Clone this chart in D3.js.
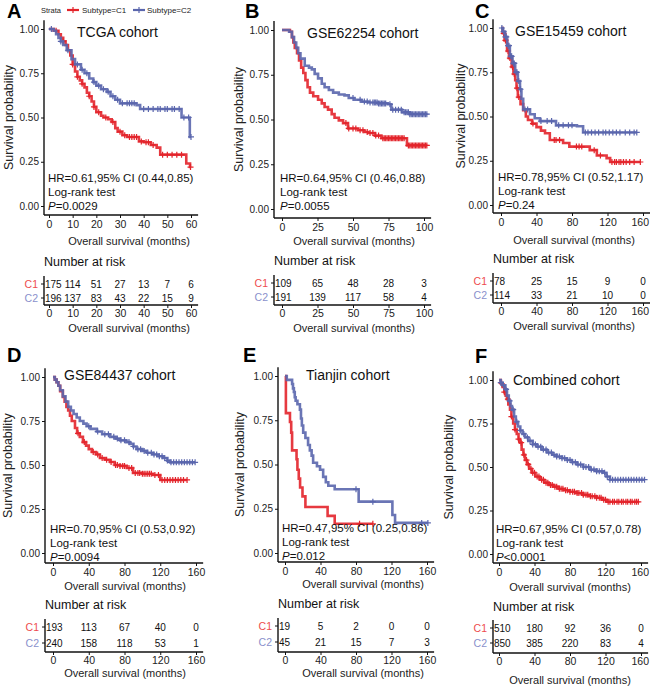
<!DOCTYPE html>
<html><head><meta charset="utf-8">
<script src="https://cdn.jsdelivr.net/npm/d3@7"></script>
<style>body{margin:0;background:#fff}svg{display:block}text{font-family:"Liberation Sans",Arial,sans-serif}</style>
</head><body><svg id="c" width="650" height="686"></svg>
<script>
// ---------- DATA ----------
const cohorts = ["TCGA cohort","GSE62254 cohort","GSE15459 cohort","GSE84437 cohort","Tianjin cohort","Combined cohort"];
const panelLetters = ["A","B","C","D","E","F"];
const hrText = ["HR=0.61,95% CI (0.44,0.85)","HR=0.64,95% CI (0.46,0.88)","HR=0.78,95% CI (0.52,1.17)","HR=0.70,95% CI (0.53,0.92)","HR=0.47,95% CI (0.25,0.86)","HR=0.67,95% CI (0.57,0.78)"];
const pText = ["=0.0029","=0.0055","=0.24","=0.0094","=0.012","<0.0001"];
const yTicks = [0,0.25,0.5,0.75,1];
const xTicksTCGA = [0,10,20,30,40,50,60];
const xTicks62254 = [0,25,50,75,100];
const xTicks160 = [0,40,80,120,160];

// KM steps: [time, survival after that time]
const tcgaC1 = [[0,1],[2,0.99],[4,0.97],[5,0.95],[6,0.93],[7,0.91],[8,0.88],[9,0.85],[10,0.80],[11,0.76],[12,0.73],[13,0.71],[14,0.69],[15,0.67],[16,0.64],[17,0.62],[18,0.59],[19,0.56],[20,0.53],[22,0.51],[23,0.50],[25,0.49],[26.5,0.475],[28,0.44],[29,0.42],[31,0.40],[33,0.39],[38,0.365],[40,0.36],[43,0.345],[45.5,0.33],[47,0.29],[58,0.24],[59.6,0.22],[60,0.22]];
const tcgaC2 = [[0,1],[2,0.99],[3,0.97],[4,0.95],[5,0.93],[6,0.91],[7.5,0.88],[9.5,0.83],[11,0.80],[13.5,0.77],[15,0.75],[17,0.72],[18.7,0.70],[20,0.68],[22,0.66],[24.5,0.645],[26,0.62],[28,0.60],[30,0.58],[37,0.57],[38.5,0.548],[56,0.50],[59.5,0.39],[60,0.39]];
const tcgaC1Cens = [3,6,10,12,14,17,19,21,24,27,30,32,34,35,36,37,39,41,42,44,48,50,52,54,56,59.8];
const tcgaC2Cens = [1,5,8,12,14,16,19,21,23,25,27,29,31,33,34,35,36,40,42,44,46,47,49,50,52,53,55,57,59,60];

const g62254C1 = [[0,1],[5.6,0.99],[7,0.96],[8,0.93],[9,0.90],[10.6,0.87],[12,0.83],[13.5,0.79],[15,0.76],[16.5,0.72],[18,0.68],[19.7,0.65],[22,0.63],[25.4,0.61],[28,0.59],[30,0.57],[32.4,0.555],[35,0.53],[37,0.51],[40,0.495],[43,0.48],[46.5,0.45],[53.5,0.44],[58,0.43],[60.7,0.425],[65.5,0.41],[70,0.395],[88,0.355],[102,0.355]];
const g62254C2 = [[0,1],[5,0.99],[7,0.96],[8.5,0.93],[10,0.90],[11.4,0.87],[13,0.84],[16,0.80],[19,0.79],[21,0.78],[23,0.755],[25.4,0.73],[28,0.70],[30,0.68],[33,0.665],[36,0.65],[40,0.64],[44,0.635],[47,0.62],[51,0.61],[56,0.60],[60.7,0.595],[68,0.59],[74.6,0.585],[77,0.555],[84.5,0.54],[90,0.53],[102,0.53]];
const g62254C1Cens = [45,47,50,52,55,57,60,62,64,66,68,71,72,73,74,75,76,77,78,79,80,81,82,83,84,85,86,89,90,91,92,93,94,95,96,97,98,99,100,101,102];
const g62254C2Cens = [50,55,58,60,62,64,65,66,67,68,69,70,71,72,73,76,78,80,82,84,86,87,88,89,90,91,92,93,94,95,96,97,98,99,100,101,102];

const g15459C1 = [[0,1],[2,0.97],[4,0.93],[6.8,0.87],[9,0.83],[12,0.78],[14,0.74],[16,0.705],[17.5,0.66],[19,0.61],[22,0.57],[25,0.535],[28,0.50],[30.4,0.48],[35,0.46],[40,0.44],[45,0.42],[49.6,0.405],[55,0.367],[70,0.35],[77,0.33],[100,0.31],[108,0.28],[119,0.265],[123,0.243],[157,0.243]];
const g15459C2 = [[0,1],[2,0.98],[4.5,0.95],[7,0.90],[10,0.84],[13,0.80],[16,0.75],[19,0.70],[21.4,0.654],[23,0.60],[25,0.54],[32.7,0.513],[38,0.49],[44,0.474],[62,0.45],[85.6,0.445],[92.5,0.41],[153,0.41]];
const g15459C1Cens = [3,5,8,10,13,15,18,20,36,60,62,66,85,88,91,105,112,125,128,130,133,135,138,141,145,150,157];
const g15459C2Cens = [1,3,5,6,8,9,11,12,14,15,17,18,20,22,27,30,45,52,57,65,70,76,80,95,98,102,106,110,115,118,122,126,130,134,140,145,150,153];

const g84437C1 = [[0,1],[2,0.985],[4,0.97],[6,0.95],[8,0.92],[11,0.886],[13,0.86],[15,0.83],[17,0.81],[19,0.78],[21,0.75],[24.6,0.71],[27,0.68],[30,0.66],[33.5,0.63],[37,0.61],[40,0.59],[43.6,0.574],[48,0.56],[52.5,0.54],[58,0.53],[64,0.517],[69,0.50],[75,0.495],[82.5,0.483],[89.5,0.455],[100,0.45],[112,0.443],[120,0.415],[150,0.415]];
const g84437C2 = [[0,1],[2,0.985],[4,0.97],[6,0.95],[8,0.925],[11,0.89],[14,0.86],[17,0.83],[20,0.81],[23,0.79],[26.5,0.77],[30,0.75],[34,0.735],[37.6,0.72],[42,0.705],[49,0.69],[55,0.675],[64,0.66],[70,0.65],[75,0.64],[82,0.63],[86,0.62],[90,0.605],[93.5,0.59],[100,0.58],[105,0.57],[112,0.56],[118,0.55],[123,0.54],[128,0.525],[131,0.515],[159,0.515]];
const g84437C1Cens = [28,35,45,50,55,60,65,70,72,75,78,80,85,88,92,95,97,100,102,104,106,108,110,114,118,122,125,128,131,134,137,140,143,146,150];
const g84437C2Cens = [40,50,58,62,68,72,76,80,85,90,95,98,102,106,110,113,116,119,122,125,128,132,135,138,141,144,147,150,153,156,159];

const tianjinC1 = [[0,1],[1,0.79],[5.6,0.74],[7,0.68],[8,0.58],[13,0.53],[14,0.47],[15.5,0.42],[17,0.37],[19.7,0.32],[23,0.26],[48,0.21],[56,0.165],[99,0.165]];
const tianjinC2 = [[0,1],[2,0.978],[8,0.955],[9,0.93],[10,0.91],[11,0.88],[12,0.86],[14,0.84],[16.8,0.81],[18,0.76],[19,0.72],[20.5,0.68],[23,0.65],[26,0.61],[28,0.58],[30,0.55],[31.7,0.51],[36,0.49],[39.5,0.47],[43,0.43],[46,0.40],[48.8,0.38],[56,0.36],[83,0.29],[121,0.215],[124,0.17],[161,0.17]];
const tianjinC1Cens = [84,99];
const tianjinC2Cens = [80,99,154,161];

const combC1 = [[0,1],[2,0.98],[4,0.96],[6,0.93],[7.5,0.91],[9,0.89],[10.5,0.86],[12.4,0.83],[14,0.79],[16,0.75],[18,0.715],[20,0.69],[22,0.66],[23.7,0.64],[25.5,0.60],[27.5,0.57],[29.3,0.54],[31.5,0.515],[34,0.49],[37,0.467],[41,0.445],[46,0.427],[51,0.41],[56,0.397],[61,0.387],[67,0.375],[73,0.366],[80,0.358],[87,0.35],[95,0.34],[102,0.332],[110,0.323],[116,0.312],[121.6,0.30],[157,0.30]];
const combC2 = [[0,1],[2,0.985],[4,0.97],[7,0.946],[9,0.91],[11,0.88],[13,0.85],[14.6,0.83],[17,0.79],[19,0.76],[21.4,0.733],[24,0.71],[26.5,0.69],[29.3,0.67],[33,0.65],[38,0.63],[42.8,0.617],[48,0.60],[54,0.583],[60,0.57],[65,0.56],[71,0.55],[76.6,0.54],[82,0.527],[88,0.514],[95,0.50],[102.5,0.485],[110,0.475],[117,0.467],[121,0.445],[125,0.427],[164,0.427]];
const combC1Cens = [3,6,10,14,18,22,25,28,31,33,36,38,40,43,45,48,50,53,55,58,60,63,65,68,70,72,75,77,80,83,85,88,90,93,95,98,100,103,105,108,110,113,115,118,120,123,125,128,130,133,135,138,140,143,145,148,150,153,155,157];
const combC2Cens = [2,5,8,12,16,20,24,28,32,35,38,41,44,47,50,53,56,59,62,65,68,71,74,77,80,83,86,89,92,95,98,101,104,107,110,113,116,119,122,125,128,131,134,137,140,143,146,149,152,155,158,161,164];

// number at risk
const riskTCGA_C1 = [175,114,51,27,13,7,6], riskTCGA_C2 = [196,137,83,43,22,15,9];
const risk62254_C1 = [109,65,48,28,3], risk62254_C2 = [191,139,117,58,4];
const risk15459_C1 = [78,25,15,9,0], risk15459_C2 = [114,33,21,10,0];
const risk84437_C1 = [193,113,67,40,0], risk84437_C2 = [240,158,118,53,1];
const riskTianjin_C1 = [19,5,2,0,0], riskTianjin_C2 = [45,21,15,7,3];
const riskComb_C1 = [510,180,92,36,0], riskComb_C2 = [850,385,220,83,4];

// ---------- STYLE / LAYOUT ----------
const RED = "#E3242B", BLUE = "#5A66AD", RED_L = "#EE4B4E", BLUE_L = "#8A90CC";
const series = [
  {c1:tcgaC1,c2:tcgaC2,c1c:tcgaC1Cens,c2c:tcgaC2Cens,ticks:xTicksTCGA,r1:riskTCGA_C1,r2:riskTCGA_C2},
  {c1:g62254C1,c2:g62254C2,c1c:g62254C1Cens,c2c:g62254C2Cens,ticks:xTicks62254,r1:risk62254_C1,r2:risk62254_C2},
  {c1:g15459C1,c2:g15459C2,c1c:g15459C1Cens,c2c:g15459C2Cens,ticks:xTicks160,r1:risk15459_C1,r2:risk15459_C2},
  {c1:g84437C1,c2:g84437C2,c1c:g84437C1Cens,c2c:g84437C2Cens,ticks:xTicks160,r1:risk84437_C1,r2:risk84437_C2},
  {c1:tianjinC1,c2:tianjinC2,c1c:tianjinC1Cens,c2c:tianjinC2Cens,ticks:xTicks160,r1:riskTianjin_C1,r2:riskTianjin_C2},
  {c1:combC1,c2:combC2,c1c:combC1Cens,c2c:combC2Cens,ticks:xTicks160,r1:riskComb_C1,r2:riskComb_C2}
];
const layouts = [
  {ax:44, x0:49, x1:191, y0:206, y1:29, xAxY:215, xLabX:129, xLabY:241, yLabX:9, letX:7, letY:18, titX:77, titY:32, hrX:48, hrY:178, nrY:262, r1Y:284, r2Y:298, rAxY:305, rLabY:328},
  {ax:274, x0:282, x1:424, y0:209, y1:30, xAxY:218, xLabX:354, xLabY:241, yLabX:239, letX:245, letY:18, titX:307, titY:33, hrX:280, hrY:178, nrY:261, r1Y:283, r2Y:297, rAxY:305, rLabY:328},
  {ax:493, x0:501, x1:643, y0:205, y1:28, xAxY:213, xLabX:574, xLabY:240, yLabX:461, letX:475, letY:18, titX:515, titY:31, hrX:498, hrY:177, nrY:259, r1Y:281, r2Y:295, rAxY:303, rLabY:326},
  {ax:45, x0:53, x1:196, y0:553, y1:377, xAxY:563, xLabX:125, xLabY:586, yLabX:8, letX:7, letY:362, titX:64, titY:375, hrX:50, hrY:529, nrY:605, r1Y:627, r2Y:643, rAxY:652, rLabY:673},
  {ax:278, x0:285, x1:427, y0:553, y1:376, xAxY:562, xLabX:363, xLabY:584, yLabX:240, letX:243, letY:362, titX:306, titY:375, hrX:282, hrY:528, nrY:604, r1Y:626, r2Y:642, rAxY:652, rLabY:673},
  {ax:493, x0:499, x1:641, y0:554, y1:380, xAxY:563, xLabX:570, xLabY:587, yLabX:449, letX:475, letY:363, titX:513, titY:380, hrX:496, hrY:529, nrY:607, r1Y:628, r2Y:643, rAxY:653, rLabY:680}
];

const W = 650;
const svg = d3.select("#c");
const AX = "#111", TXT = "#222";

// legend
const leg = svg.append("g");
leg.append("text").attr("x",41).attr("y",10).attr("dy",".35em").attr("font-size",7.5).attr("fill",TXT).text("Strata");
[[67,79,RED,82,"Subtype=C1"],[133,145,BLUE,147,"Subtype=C2"]].forEach(([a,b,col,tx,lab])=>{
  leg.append("line").attr("x1",a).attr("x2",b).attr("y1",10).attr("y2",10).attr("stroke",col).attr("stroke-width",2.2);
  leg.append("path").attr("d",`M${(a+b)/2-3},10H${(a+b)/2+3}M${(a+b)/2},7V13`).attr("stroke",col).attr("stroke-width",1.2);
  leg.append("text").attr("x",tx).attr("y",10).attr("dy",".35em").attr("font-size",8).attr("fill",TXT).text(lab);
});

function stepAt(steps,t){let s=1;for(const [tt,ss] of steps){if(tt<=t)s=ss;else break;}return s;}
// keep tick labels inside the page edge
function fitEdge(sel){
  sel.selectAll(".tick text").each(function(){
    const bb = this.getBBox();
    const tr = this.parentNode.getAttribute("transform");
    const tx = +tr.match(/translate\(([-\d.]+)/)[1];
    if (tx + bb.x + bb.width > W - 1) { d3.select(this).attr("text-anchor","end").attr("x", W - 1 - tx); }
  });
}

series.forEach((d,i)=>{
  const L = layouts[i];
  const xMax = d.ticks[d.ticks.length-1];
  const x = d3.scaleLinear().domain([0,xMax]).range([L.x0,L.x1]);
  const y = d3.scaleLinear().domain([0,1]).range([L.y0,L.y1]);
  const g = svg.append("g");
  const topY = y(1.05), rightX = Math.min(W, x(xMax*1.05));

  g.append("text").attr("x",L.letX).attr("y",L.letY).attr("font-size",20).attr("font-weight","bold").attr("fill","#000").text(panelLetters[i]);
  g.append("text").attr("x",L.titX).attr("y",L.titY).attr("dy",".35em").attr("font-size",14).attr("fill","#111").text(cohorts[i]);

  g.append("line").attr("x1",L.ax).attr("x2",L.ax).attr("y1",topY).attr("y2",L.xAxY).attr("stroke",AX).attr("stroke-width",1.4);
  g.append("line").attr("x1",L.ax).attr("x2",rightX).attr("y1",L.xAxY).attr("y2",L.xAxY).attr("stroke",AX).attr("stroke-width",1.4);
  const ya = g.append("g").attr("transform",`translate(${L.ax},0)`)
    .call(d3.axisLeft(y).tickValues(yTicks).tickFormat(d3.format(".2f")).tickSize(3).tickPadding(2));
  ya.select(".domain").remove();
  ya.selectAll("text").attr("font-size",10).attr("fill",TXT).attr("font-family",null);
  ya.selectAll("line").attr("stroke",AX);
  const xa = g.append("g").attr("transform",`translate(0,${L.xAxY})`)
    .call(d3.axisBottom(x).tickValues(d.ticks).tickFormat(d3.format("d")).tickSize(3).tickPadding(3));
  xa.select(".domain").remove();
  xa.selectAll("text").attr("font-size",10.5).attr("fill",TXT).attr("font-family",null);
  xa.selectAll("line").attr("stroke",AX);
  fitEdge(xa);

  g.append("text").attr("transform",`translate(${L.yLabX},${(topY+L.xAxY)/2}) rotate(-90)`).attr("dy",".35em")
    .attr("text-anchor","middle").attr("font-size",12.5).attr("fill",TXT).text("Survival probability");
  g.append("text").attr("x",L.xLabX).attr("y",L.xLabY).attr("dy",".35em").attr("text-anchor","middle")
    .attr("font-size",11).attr("fill",TXT).text("Overall survival (months)");

  const line = d3.line().x(p=>x(p[0])).y(p=>y(p[1])).curve(d3.curveStepAfter);
  [[d.c1,d.c1c,RED],[d.c2,d.c2c,BLUE]].forEach(([st,cens,col])=>{
    g.append("path").datum(st).attr("d",line).attr("fill","none").attr("stroke",col).attr("stroke-width",2.6).attr("stroke-opacity",0.9);
    g.selectAll(null).data(cens).enter().append("path")
      .attr("transform",t=>`translate(${x(t)},${y(stepAt(st,t))})`)
      .attr("d","M-3,0H3M0,-3V3").attr("stroke",col).attr("stroke-width",1.2);
  });

  const fs = 11.5;
  g.append("text").attr("x",L.hrX).attr("y",L.hrY).attr("dy",".35em").attr("font-size",fs).attr("fill","#111").text(hrText[i]);
  g.append("text").attr("x",L.hrX).attr("y",L.hrY+14).attr("dy",".35em").attr("font-size",fs).attr("fill","#111").text("Log-rank test");
  const pt = g.append("text").attr("x",L.hrX).attr("y",L.hrY+28).attr("dy",".35em").attr("font-size",fs).attr("fill","#111");
  pt.append("tspan").attr("font-style","italic").text("P");
  pt.append("tspan").text(pText[i]);

  g.append("text").attr("x",L.ax).attr("y",L.nrY).attr("dy",".35em").attr("font-size",12.5).attr("fill","#111").text("Number at risk");
  g.append("line").attr("x1",L.ax).attr("x2",L.ax).attr("y1",L.r1Y-8).attr("y2",L.rAxY).attr("stroke",AX).attr("stroke-width",1.4);
  g.append("line").attr("x1",L.ax).attr("x2",rightX).attr("y1",L.rAxY).attr("y2",L.rAxY).attr("stroke",AX).attr("stroke-width",1.4);
  const ra = g.append("g").attr("transform",`translate(0,${L.rAxY})`)
    .call(d3.axisBottom(x).tickValues(d.ticks).tickFormat(d3.format("d")).tickSize(3).tickPadding(2));
  ra.select(".domain").remove();
  ra.selectAll("text").attr("font-size",10.5).attr("fill",TXT).attr("font-family",null);
  ra.selectAll("line").attr("stroke",AX);
  fitEdge(ra);
  g.append("text").attr("x",L.xLabX).attr("y",L.rLabY).attr("dy",".35em").attr("text-anchor","middle")
    .attr("font-size",11).attr("fill",TXT).text("Overall survival (months)");
  [[d.r1,L.r1Y,"C1",RED_L],[d.r2,L.r2Y,"C2",BLUE_L]].forEach(([vals,ry,lab,col])=>{
    g.append("line").attr("x1",L.ax-3).attr("x2",L.ax).attr("y1",ry).attr("y2",ry).attr("stroke",AX);
    g.append("text").attr("x",L.ax-6).attr("y",ry).attr("dy",".35em").attr("text-anchor","end").attr("font-size",10.5).attr("fill",col).text(lab);
    vals.forEach((v,k)=>{
      const first = k===0;
      g.append("text").attr("x",first?L.ax+1:x(d.ticks[k])).attr("y",ry).attr("dy",".35em")
        .attr("text-anchor",first?"start":"middle").attr("font-size",10).attr("fill","#111").text(v);
    });
  });
});
</script></body></html>
